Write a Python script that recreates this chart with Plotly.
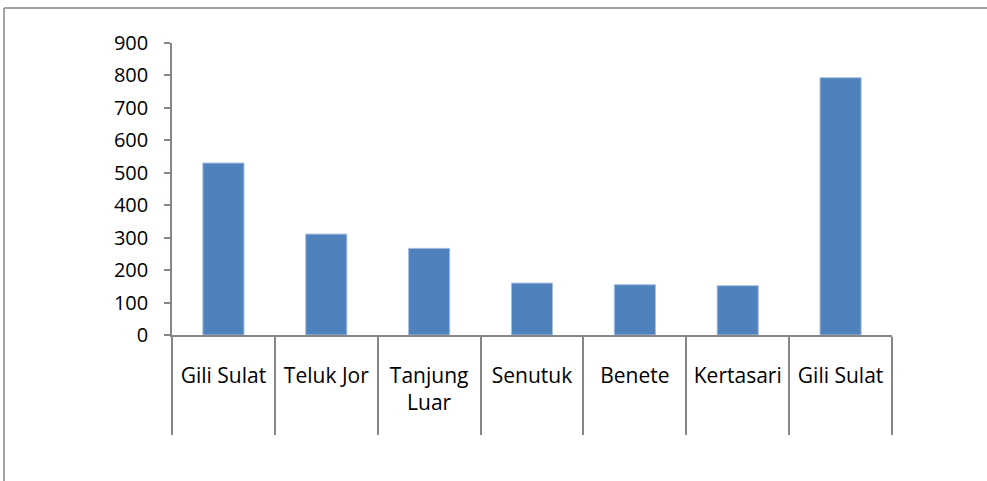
import plotly.graph_objects as go

categories = ["Gili Sulat", "Teluk Jor", "Tanjung<br>Luar", "Senutuk", "Benete", "Kertasari", "Gili Sulat"]
values = [530, 311, 267, 160, 155, 152, 793]
y_ticks = [0, 100, 200, 300, 400, 500, 600, 700, 800, 900]

positions = list(range(1, len(categories) + 1))

fig = go.Figure()
fig.add_trace(go.Bar(
    x=positions, y=values,
    marker=dict(color="#4F81BD", line=dict(color="#A7BEDD", width=1)),
    width=0.4,
    hoverinfo="skip",
))

font_family = "'Open Sans', Lato, sans-serif"
axis_color = "#868686"

fig.update_layout(
    width=987, height=481,
    margin=dict(l=172, r=95, t=43, b=146),
    paper_bgcolor="white", plot_bgcolor="white",
    showlegend=False,
    font=dict(family=font_family, size=20, color="black"),
    xaxis=dict(
        range=[0.5, len(categories) + 0.5],
        tickmode="array", tickvals=positions, ticktext=categories,
        ticks="", showgrid=False, zeroline=False,
        showline=True, linecolor=axis_color, linewidth=1.5,
        ticklabelstandoff=21,
        tickfont=dict(family=font_family, size=21, color="black"),
        minor=dict(tickmode="linear", tick0=0.5, dtick=1, ticks="outside",
                   ticklen=98, tickcolor=axis_color, tickwidth=1.5, showgrid=False),
    ),
    yaxis=dict(
        range=[0, 900], tickmode="array", tickvals=y_ticks,
        ticks="outside", ticklen=6, tickcolor=axis_color, tickwidth=1.5,
        showgrid=False, zeroline=False,
        showline=True, linecolor=axis_color, linewidth=1.5,
        ticklabelstandoff=12,
        tickfont=dict(family=font_family, size=20, color="black"),
    ),
    shapes=[
        dict(type="line", xref="paper", yref="paper", x0=(4 - 172) / 720, x1=(990 - 172) / 720,
             y0=(335 - 8) / 292, y1=(335 - 8) / 292, line=dict(color=axis_color, width=1.5)),
        dict(type="line", xref="paper", yref="paper", x0=(4 - 172) / 720, x1=(4 - 172) / 720,
             y0=(335 - 8) / 292, y1=(335 - 490) / 292, line=dict(color=axis_color, width=1.5)),
    ],
)

fig.write_html("out.html", config={"displayModeBar": False},
               post_script="document.body.style.margin='0';")
